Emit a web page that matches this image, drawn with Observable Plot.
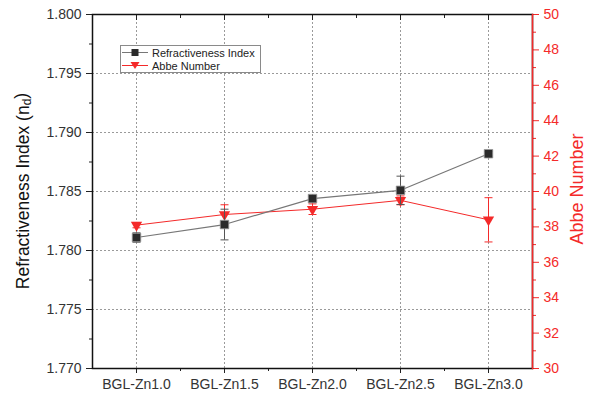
<!DOCTYPE html>
<html><head><meta charset="utf-8">
<script src="https://cdn.jsdelivr.net/npm/d3@7"></script>
<script src="https://cdn.jsdelivr.net/npm/@observablehq/plot@0.6"></script>
<style>
body{margin:0;background:#fff;font-family:"Liberation Sans",Arial,sans-serif;}
#wrap{position:relative;width:591px;height:398px;}
#legend{position:absolute;left:120px;top:45px;width:139px;height:26px;border:1px solid #8a8a8a;background:#fff;font-size:11px;color:#222;}
#legend .row{position:absolute;left:0;height:13px;display:flex;align-items:center;white-space:nowrap;}
#legend svg{margin-left:1px;margin-right:4px;}
</style>
</head><body>
<div id="wrap"><div id="legend"></div></div>
<script>
const categories = ["BGL-Zn1.0","BGL-Zn1.5","BGL-Zn2.0","BGL-Zn2.5","BGL-Zn3.0"];
const refractiveIndex = [1.7811, 1.7822, 1.7844, 1.7851, 1.7882];
const refractiveErr = [0.0004, 0.0013, 0.0002, 0.0012, 0.0002];
const abbeNumber = [38.1, 38.7, 39.0, 39.5, 38.4];
const abbeErr = [0.15, 0.55, 0.3, 0.25, 1.25];
const leftTicks = [1.770, 1.775, 1.780, 1.785, 1.790, 1.795, 1.800];
const rightTicks = [30, 32, 34, 36, 38, 40, 42, 44, 46, 48, 50];

const leftDomain = [1.770, 1.800];
const rightDomain = [30, 50];
const toLeft = v => leftDomain[0] + (v - rightDomain[0]) * (leftDomain[1] - leftDomain[0]) / (rightDomain[1] - rightDomain[0]);
const fromLeft = v => rightDomain[0] + (v - leftDomain[0]) * (rightDomain[1] - rightDomain[0]) / (leftDomain[1] - leftDomain[0]);

const RED = "#f42a2a";
const idx = categories.map((c, i) => i);
const minorX = idx.slice(0, -1).map(i => i + 0.5);
const minorLeft = leftTicks.slice(0, -1).map(v => v + 0.0025);
const minorRight = rightTicks.slice(0, -1).map(v => toLeft(v + 1));

const data = categories.map((c, i) => ({
  i, cat: c,
  ri: refractiveIndex[i], riLo: refractiveIndex[i] - refractiveErr[i], riHi: refractiveIndex[i] + refractiveErr[i],
  ab: toLeft(abbeNumber[i]), abLo: toLeft(abbeNumber[i] - abbeErr[i]), abHi: toLeft(abbeNumber[i] + abbeErr[i])
}));

const capSymbol = {draw(ctx, size) { const w = Math.sqrt(size / Math.PI); ctx.moveTo(-w, 0); ctx.lineTo(w, 0); }};

const plot = Plot.plot({
  width: 591, height: 398,
  marginLeft: 92, marginRight: 59, marginTop: 14, marginBottom: 30,
  style: {fontFamily: "'Liberation Sans', Arial, sans-serif", fontSize: "14px", color: "#333", background: "#fff"},
  x: {type: "linear", domain: [-0.5, categories.length - 0.5]},
  y: {domain: leftDomain},
  marks: [
    Plot.gridX(idx, {stroke: "#9a9a9a", strokeOpacity: 1, strokeDasharray: "2,2"}),
    Plot.gridY(leftTicks.slice(1, -1), {stroke: "#9a9a9a", strokeOpacity: 1, strokeDasharray: "2,2"}),
    Plot.axisX(idx, {anchor: "bottom", tickSize: 5, tickPadding: 6, tickFormat: i => categories[i], label: null, stroke: "#222", fill: "#333", fontSize: 14}),
    Plot.axisX(minorX, {anchor: "bottom", tickSize: 3, tickFormat: () => "", label: null, stroke: "#222"}),
    Plot.axisX(idx, {anchor: "top", tickSize: 5, dy: 5, tickFormat: () => "", label: null, stroke: "#222"}),
    Plot.axisX(minorX, {anchor: "top", tickSize: 3, dy: 3, tickFormat: () => "", label: null, stroke: "#222"}),
    Plot.axisY(leftTicks, {anchor: "left", tickSize: 6, tickPadding: 5, tickFormat: d3.format(".3f"), label: null, stroke: "#222", fill: "#333", fontSize: 14}),
    Plot.axisY(minorLeft, {anchor: "left", tickSize: 3, tickFormat: () => "", label: null, stroke: "#222"}),
    Plot.axisY(rightTicks.map(toLeft), {anchor: "right", tickSize: 6, tickPadding: 5, tickFormat: d => String(Math.round(fromLeft(d))), label: null, stroke: RED, fill: RED, fontSize: 14}),
    Plot.axisY(minorRight, {anchor: "right", tickSize: 3, tickFormat: () => "", label: null, stroke: RED}),
    Plot.frame({stroke: "#111", strokeWidth: 1.5}),
    Plot.frame({anchor: "right", stroke: RED, strokeWidth: 1.5}),
    Plot.line(data, {x: "i", y: "ab", stroke: RED, strokeWidth: 1}),
    Plot.ruleX(data, {x: "i", y1: "abLo", y2: "abHi", stroke: RED, strokeWidth: 1}),
    Plot.dot(data, {x: "i", y: "abLo", symbol: capSymbol, r: 4, stroke: RED, strokeWidth: 1}),
    Plot.dot(data, {x: "i", y: "abHi", symbol: capSymbol, r: 4, stroke: RED, strokeWidth: 1}),
    Plot.dot(data, {x: "i", y: "ab", symbol: "triangle", rotate: 180, r: 4.2, fill: RED, stroke: "none"}),
    Plot.line(data, {x: "i", y: "ri", stroke: "#777", strokeWidth: 1.2}),
    Plot.ruleX(data, {x: "i", y1: "riLo", y2: "riHi", stroke: "#555", strokeWidth: 1}),
    Plot.dot(data, {x: "i", y: "riLo", symbol: capSymbol, r: 4, stroke: "#555", strokeWidth: 1}),
    Plot.dot(data, {x: "i", y: "riHi", symbol: capSymbol, r: 4, stroke: "#555", strokeWidth: 1}),
    Plot.dot(data, {x: "i", y: "ri", symbol: "square", r: 4.8, fill: "#2b2b2b", stroke: "#999", strokeWidth: 0.8})
  ]
});

const svg = d3.select(plot);
const lt = svg.append("text")
  .attr("transform", "translate(23,191) rotate(-90)")
  .attr("text-anchor", "middle").attr("dominant-baseline", "central")
  .attr("fill", "#111").style("font-size", "17.5px");
lt.append("tspan").text("Refractiveness Index (n");
lt.append("tspan").text("d").attr("dy", "0.3em").style("font-size", "12px");
lt.append("tspan").text(")").attr("dy", "-0.3em");
svg.append("text")
  .attr("transform", "translate(577,189) rotate(-90)")
  .attr("text-anchor", "middle").attr("dominant-baseline", "central")
  .attr("fill", RED).style("font-size", "18px")
  .text("Abbe Number");

document.getElementById("wrap").prepend(plot);

const legendItems = [
  {label: "Refractiveness Index", color: "#777", fill: "#2b2b2b", shape: "square"},
  {label: "Abbe Number", color: RED, fill: RED, shape: "triangle"}
];
const leg = d3.select("#legend");
legendItems.forEach((it, k) => {
  const row = leg.append("div").attr("class", "row").style("top", (k * 13) + "px");
  const s = row.append("svg").attr("width", 26).attr("height", 13);
  s.append("line").attr("x1", 0).attr("x2", 26).attr("y1", 6.5).attr("y2", 6.5).attr("stroke", it.color).attr("stroke-width", 1);
  if (it.shape === "square") s.append("rect").attr("x", 9.5).attr("y", 3).attr("width", 7).attr("height", 7).attr("fill", it.fill);
  else s.append("path").attr("d", "M8.5,3 L17.5,3 L13,10 Z").attr("fill", it.fill);
  row.append("span").text(it.label);
});
</script>
</body></html>
